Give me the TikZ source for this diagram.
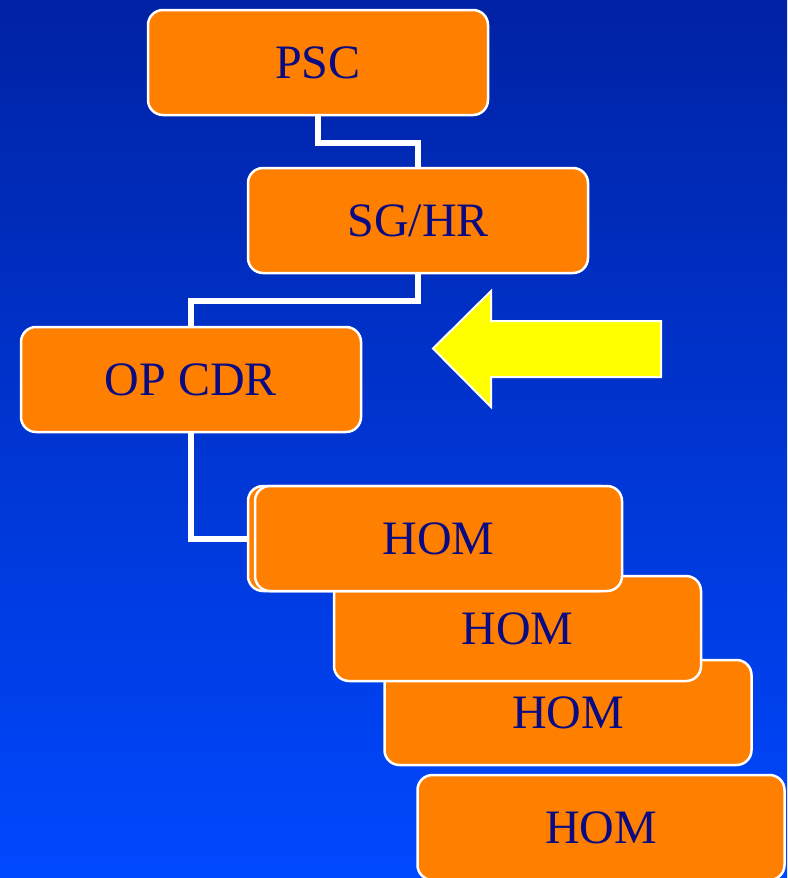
\documentclass[tikz,border=0pt]{standalone}
\usepackage{fontspec}
\setmainfont{Liberation Serif}
\definecolor{bgtop}{RGB}{0,34,164}
\definecolor{bgbot}{RGB}{0,72,255}
\definecolor{boxorange}{RGB}{255,128,0}
\definecolor{navy}{RGB}{10,10,130}
\definecolor{arrowyellow}{RGB}{255,255,0}
\begin{document}
\begin{tikzpicture}[x=1pt,y=-1pt,
	box/.style={draw=white,line width=2.5pt,fill=boxorange,rounded corners=15pt,
		minimum height=105pt,text=navy,font=\fontsize{48}{56}\selectfont,inner sep=0pt},
	link/.style={draw=white,line width=6pt}]
	\def\w{340} %width of upper boxes
	\def\hw{367} %width of HOM boxes
	
	%BACKGROUND
	\useasboundingbox (0,0) rectangle (787,878);
	\clip (0,0) rectangle (787,878);
	\shade[top color=bgtop,bottom color=bgbot] (0,0) rectangle (787,878);
	
	%UPPER BOXES
	\node[box,minimum width=\w pt] (psc) at (318,62.5) {PSC};
	\node[box,minimum width=\w pt] (sghr) at (418,220.5) {SG/HR};
	\node[box,minimum width=\w pt] (opcdr) at (191,379.5) {OP CDR};
	
	%HOM BOXES (back to front)
	\node[box,minimum width=\hw pt] (homD) at (601,827.5) {HOM};
	\node[box,minimum width=\hw pt] (homC) at (568,712.5) {HOM};
	\node[box,minimum width=\hw pt] (homB) at (517.5,628.5) {HOM};
	\node[box,minimum width=\hw pt] (homAback) at (431.5,538.5) {};
	\node[box,minimum width=\hw pt] (homA) at (438.5,538.5) {HOM};
	
	%CONNECTORS
	\draw[link] (psc.south) -- ++(0,27) -| (sghr.north);
	\draw[link] (sghr.south) -- ++(0,27) -| (opcdr.north);
	\draw[link] (opcdr.south) |- (homAback.west);
	
	%YELLOW ARROW
	\draw[draw=white,line width=2pt,fill=arrowyellow,line join=miter]
		(661,321) -- (491,321) -- (491,291) -- (433,348.5) -- (491,407) -- (491,377) -- (661,377) -- cycle;
\end{tikzpicture}
\end{document}
